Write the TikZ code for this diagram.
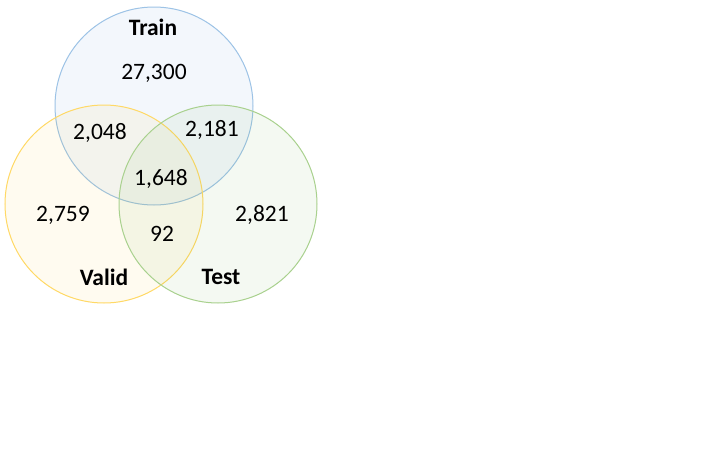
\documentclass[tikz,border=0pt]{standalone}
\usepackage{fontspec}
\setmainfont{Carlito}
\begin{document}
\begin{tikzpicture}[x=1pt,y=-1pt,
  setcircle/.style={circle, minimum size=198pt, inner sep=0pt, line width=1pt, fill opacity=0.07},
  num/.style={font=\fontsize{23.5}{28}\selectfont, inner sep=0pt},
  lab/.style={font=\fontsize{23.5}{28}\selectfont\bfseries, inner sep=0pt}]
\definecolor{bluef}{HTML}{5B9BD5}
\definecolor{yellowf}{HTML}{FFC000}
\definecolor{greenf}{HTML}{70AD47}
\definecolor{bluel}{HTML}{9DC3E6}
\definecolor{yellowl}{HTML}{FFD966}
\definecolor{greenl}{HTML}{A9D18E}
\useasboundingbox (0,0) rectangle (718,453);
\fill[white] (0,0) rectangle (718,453);
\node[setcircle, draw=bluel, fill=bluef] (train) at (154,106) {};
\node[setcircle, draw=yellowl, fill=yellowf, fill opacity=0.06] (valid) at (104,204) {};
\node[setcircle, draw=greenl, fill=greenf, fill opacity=0.07] (test) at (218,204) {};
\node[lab] (ltrain) at (153,27) {Train};
\node[lab] (lvalid) at (104,277) {Valid};
\node[lab] (ltest) at (221,277) {Test};
\node[num] (n1) at (154,73) {27,300};
\node[num] (n2) at (100,133) {2,048};
\node[num] (n3) at (212,130) {2,181};
\node[num] (n4) at (161,179) {1,648};
\node[num] (n5) at (63,215) {2,759};
\node[num] (n6) at (162,234) {92};
\node[num] (n7) at (262,215) {2,821};
\end{tikzpicture}
\end{document}
